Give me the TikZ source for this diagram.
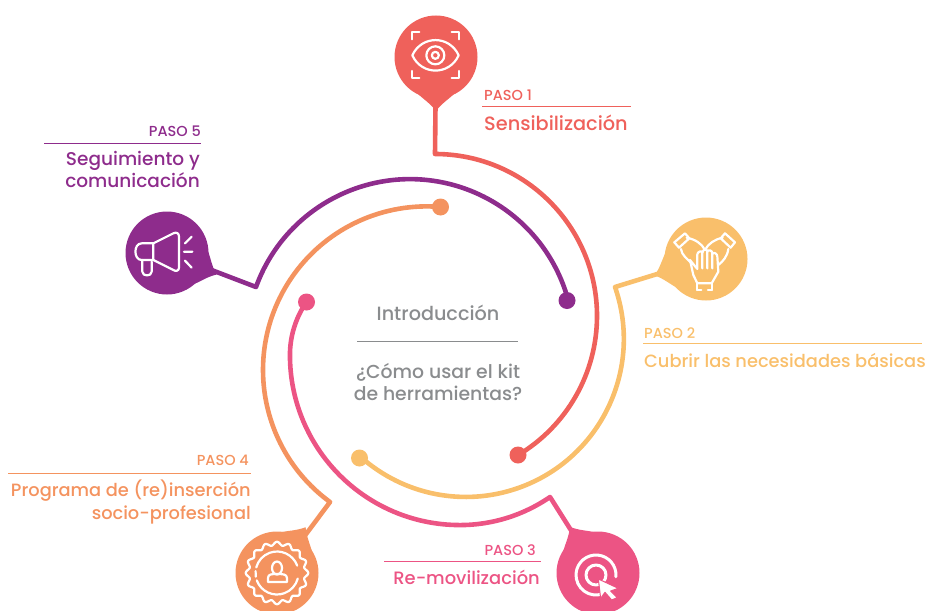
\documentclass[tikz,border=0pt]{standalone}
\usepackage{fontspec}
\setmainfont{Poppins Medium}
\usetikzlibrary{positioning}
\definecolor{cRed}{HTML}{EF615B}
\definecolor{cYellow}{HTML}{F9BF6B}
\definecolor{cPink}{HTML}{EC5484}
\definecolor{cOrange}{HTML}{F4935F}
\definecolor{cPurple}{HTML}{8E2C8C}
\definecolor{cGrey}{HTML}{8A8C8E}
\tikzset{
	pintail/.pic={\fill (36,19) .. controls (42,13) and (46,6) .. (54,0) .. controls (46,-6) and (42,-13) .. (36,-19) -- cycle;},
	spiral/.style={line width=4.6pt, line join=round},
	iconline/.style={draw=white, line width=2.2pt, line cap=round, line join=round},
	paso/.style={inner sep=0pt, font=\fontsize{14.5}{16}\selectfont},
	title/.style={inner sep=0pt, font=\fontsize{#1}{21}\selectfont},
	title/.default=18.5,
	centre/.style={inner sep=0pt, anchor=base, text=cGrey, font=\fontsize{#1}{21}\selectfont},
	centre/.default=18.8
}
\begin{document}
\begin{tikzpicture}[x=1pt,y=1pt]
	\useasboundingbox (0,0) rectangle (925,-610);
	\begin{scope}[every node/.style={circle, inner sep=0pt}]
		\node[fill=cRed, minimum size=83pt] (p1) at (436,-57) {};
		\node[fill=cYellow, minimum size=83pt] (p2) at (706,-259) {};
		\node[fill=cPink, minimum size=83pt] (p3) at (598,-573) {};
		\node[fill=cOrange, minimum size=83pt] (p4) at (277,-573) {};
		\node[fill=cPurple, minimum size=83pt] (p5) at (167,-253) {};
		\node[fill=cRed, minimum size=17pt] (d1) at (518,-455) {};
		\node[fill=cYellow, minimum size=17pt] (d2) at (359.5,-458) {};
		\node[fill=cPink, minimum size=17pt] (d3) at (306.5,-302) {};
		\node[fill=cOrange, minimum size=17pt] (d4) at (440.5,-207) {};
		\node[fill=cPurple, minimum size=17pt] (d5) at (567,-300.5) {};
	\end{scope}

	\pic[rotate=-90, color=cRed] at (p1) {pintail};
	\pic[rotate=197.7, color=cYellow] at (p2) {pintail};
	\pic[rotate=121.3, color=cPink] at (p3) {pintail};
	\pic[rotate=58, color=cOrange] at (p4) {pintail};
	\pic[rotate=-23.5, color=cPurple] at (p5) {pintail};

	\coordinate (b1) at (435,-154);
	\coordinate (b2) at (615,-287);
	\coordinate (b3) at (550,-497);
	\coordinate (b4) at (330,-502);
	\coordinate (b5) at (256,-287);

	\draw[spiral, cRed] (p1) -- (b1) arc[start angle=90, end angle=-59.2, radius=162pt] -- (d1.center);
	\draw[spiral, cYellow] (p2) -- (b2) arc[start angle=19.2, end angle=-131.4, radius=158pt] -- (d2.center);
	\draw[spiral, cPink] (p3) -- (b3) arc[start angle=-55.4, end angle=-90, radius=158.6pt] arc[start angle=-90, end angle=-180, radius=170pt] arc[start angle=180, end angle=145, radius=93.4pt] -- (d3.center);
	\draw[spiral, cOrange] (p4) -- (b4) arc[start angle=233.8, end angle=85, radius=163.6pt] -- (d4.center);
	\draw[spiral, cPurple] (p5) -- (b5) arc[start angle=160, end angle=15.3, radius=163.9pt] -- (d5.center);

	\begin{scope}[shift={(380,0)},x=0.3333pt,y=-0.3333pt]
		\draw[iconline] (95,118) -- (95,96) -- (118,96) (215,96) -- (238,96) -- (238,118);
		\draw[iconline] (95,213) -- (95,235) -- (118,235) (215,235) -- (238,235) -- (238,213);
		\draw[iconline] (97,166) .. controls (125,105) and (208,105) .. (236,166) .. controls (208,227) and (125,227) .. (97,166) -- cycle;
		\draw[iconline] (166,166) circle[radius=9pt];
		\draw[iconline] (166,166) circle[radius=3.5pt];
	\end{scope}

	\begin{scope}[shift={(610,-200)},x=0.3333pt,y=-0.3333pt]
		\draw[iconline] (193,127) -- (225,100) -- (238,115) -- (207,143) -- cycle;
		\draw[iconline] (375,127) -- (345,100) -- (332,115) -- (362,143) -- cycle;
		\draw[iconline] (230,113) .. controls (255,118) and (275,130) .. (285,150) .. controls (295,130) and (315,118) .. (338,113);
		\draw[iconline] (213,147) .. controls (215,165) and (230,175) .. (245,190);
		\draw[iconline] (355,147) .. controls (352,170) and (338,185) .. (325,195);
		\draw[iconline] (262,205) -- (262,163) .. controls (262,155) and (277,150) .. (277,158) -- (277,205);
		\draw[iconline] (277,158) .. controls (279,146) and (292,146) .. (292,155) -- (292,205);
		\draw[iconline] (292,155) .. controls (294,148) and (307,150) .. (307,160) -- (307,205);
		\draw[iconline] (307,162) .. controls (310,155) and (322,160) .. (322,170) -- (325,215) -- (305,250) -- (262,250) -- (250,225) -- (240,180) -- (262,207);
		\draw[iconline] (262,250) -- (262,270) (305,250) -- (305,270);
		\draw[iconline] (262,270) -- (274,270) (294,270) -- (305,270);
	\end{scope}

	\begin{scope}[shift={(110,-195)},x=0.3333pt,y=-0.3333pt]
		\draw[iconline] (130,145) -- (95,145) .. controls (70,145) and (70,195) .. (95,195) -- (130,195) -- cycle;
		\draw[iconline] (130,145) -- (190,115) .. controls (200,110) and (207,115) .. (207,125) -- (207,218) .. controls (207,228) and (197,230) .. (190,225) -- (130,195);
		\draw[iconline] (97,195) -- (97,230) .. controls (97,245) and (125,245) .. (125,230) -- (125,200);
		\draw[iconline] (225,145) -- (245,125) (222,170) -- (247,170) (225,197) -- (245,218);
	\end{scope}

	\begin{scope}[every path/.style={iconline, line width=3pt}]
		\draw ([shift={(-5:20)}]596,-575) arc[start angle=-5, end angle=285, radius=20pt];
		\draw (596,-575) circle[radius=10pt];
	\end{scope}
	\begin{scope}[shift={(510,-480)},x=0.3333pt,y=-0.3333pt]
		\draw[iconline, fill=white, draw=cPink, line width=1pt] (265,297) -- (325,325) -- (302,333) -- (322,353) -- (305,360) -- (285,337) -- (272,355) -- cycle;
	\end{scope}

	\draw[iconline] plot[domain=0:360, samples=145, smooth cycle] ({277+(29.5+1.8*cos(16*\x))*cos(\x)}, {-573+(29.5+1.8*cos(16*\x))*sin(\x)});
	\draw[iconline] ([shift={(20:21.5)}]277,-573) arc[start angle=20, end angle=165, radius=21.5pt];
	\draw[iconline] ([shift={(175:21.5)}]277,-573) arc[start angle=175, end angle=190, radius=21.5pt];
	\draw[iconline] ([shift={(200:21.5)}]277,-573) arc[start angle=200, end angle=345, radius=21.5pt];
	\draw[iconline] (277,-568) ellipse[x radius=5pt, y radius=6.5pt];
	\draw[iconline] (268,-582) -- (287,-582) -- (287,-578) .. controls (287,-574) and (282,-574) .. (277,-574) .. controls (272,-574) and (268,-574) .. (268,-578) -- cycle;

	\node[paso, anchor=base west, text=cRed] (t1) at (484,-100) {PASO 1};
	\node[title=19.3, anchor=base west, text=cRed] (n1) at (484,-130) {Sensibilización};
	\draw[cRed, line width=0.6pt] (482,-106) -- (631,-106);

	\node[paso, anchor=base west, text=cYellow] (t2) at (644,-338) {PASO 2};
	\node[title=17.8, anchor=base west, text=cYellow] (n2) at (644,-367) {Cubrir las necesidades básicas};
	\draw[cYellow, line width=0.6pt] (643,-343.5) -- (922,-343.5);

	\node[paso, anchor=base east, text=cPink] (t3) at (536,-555) {PASO 3};
	\node[title=17.9, anchor=base east, text=cPink] (n3) at (540,-584) {Re-movilización};
	\draw[cPink, line width=0.6pt] (384,-561) -- (541,-561);

	\node[paso, anchor=base east, text=cOrange] (t4) at (249,-465) {PASO 4};
	\node[title=17.8, anchor=base east, text=cOrange] (n4) at (251,-496) {Programa de (re)inserción};
	\node[title=17.8, anchor=base east, text=cOrange] (m4) at (251,-519) {socio-profesional};
	\draw[cOrange, line width=0.6pt] (8,-473) -- (251,-473);

	\node[paso, anchor=base east, text=cPurple] (t5) at (201,-136) {PASO 5};
	\node[title, anchor=base east, text=cPurple] (n5) at (200,-165) {Seguimiento y};
	\node[title, anchor=base east, text=cPurple] (m5) at (200,-187) {comunicación};
	\draw[cPurple, line width=0.6pt] (44,-143) -- (201,-143);

	\node[centre=19.2] (c1) at (438,-320) {Introducción};
	\draw[cGrey, line width=0.7pt] (357,-341) -- (518,-341);
	\node[centre] (c2) at (438,-378) {¿Cómo usar el kit};
	\node[centre] (c3) at (438,-400) {de herramientas?};
\end{tikzpicture}
\end{document}
